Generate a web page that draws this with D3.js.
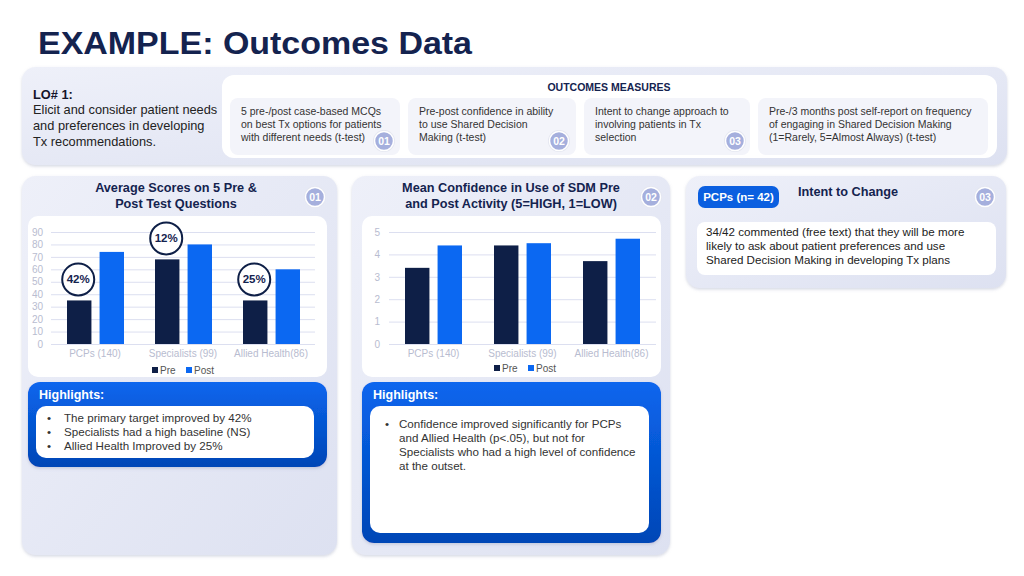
<!DOCTYPE html>
<html><head><meta charset="utf-8">
<script src="https://cdn.jsdelivr.net/npm/d3@7"></script>
<style>
html,body{margin:0;padding:0;background:#fff;}
svg{display:block;font-family:"Liberation Sans",Arial,sans-serif;}
</style></head>
<body><svg id="c" width="1024" height="576"></svg>
<script>
// ---- data ----
const categories = ["PCPs (140)", "Specialists (99)", "Allied Health(86)"];
const seriesNames = ["Pre", "Post"];
const scorePre = [35, 68, 35];
const scorePost = [74, 80, 60];
const scoreTicks = [0, 10, 20, 30, 40, 50, 60, 70, 80, 90];
const scoreChange = ["42%", "12%", "25%"];
const confPre = [3.4, 4.4, 3.7];
const confPost = [4.4, 4.5, 4.7];
const confTicks = [0, 1, 2, 3, 4, 5];
const measures = [
  ["5 pre-/post case-based MCQs", "on best Tx options for patients", "with different needs (t-test)"],
  ["Pre-post confidence in ability", "to use Shared Decision", "Making (t-test)"],
  ["Intent to change approach to", "involving patients in Tx", "selection"],
  ["Pre-/3 months post self-report on frequency", "of engaging in Shared Decision Making", "(1=Rarely, 5=Almost Always) (t-test)"]
];
const highlights1 = ["The primary target improved by 42%", "Specialists had a high baseline (NS)", "Allied Health Improved by 25%"];
const highlights2 = ["Confidence improved significantly for PCPs", "and Allied Health (p<.05), but not for", "Specialists who had a high level of confidence", "at the outset."];
const intentText = ["34/42 commented (free text) that they will be more", "likely to ask about patient preferences and use", "Shared Decision Making in developing Tx plans"];

const NAVY = "#0e1f47", BLUE = "#0b68f2", TITLE = "#14234f";
const svg = d3.select("#c");
const defs = svg.append("defs");

const g1 = defs.append("linearGradient").attr("id","panelG").attr("x1",0).attr("y1",0).attr("x2",1).attr("y2",1);
g1.append("stop").attr("offset","0%").attr("stop-color","#eef0f9");
g1.append("stop").attr("offset","100%").attr("stop-color","#dde1f1");
const g2 = defs.append("linearGradient").attr("id","blueG").attr("x1",0).attr("y1",0).attr("x2",0).attr("y2",1);
g2.append("stop").attr("offset","0%").attr("stop-color","#0a66ee");
g2.append("stop").attr("offset","100%").attr("stop-color","#0046b6");
const f = defs.append("filter").attr("id","sh").attr("x","-10%").attr("y","-10%").attr("width","120%").attr("height","130%");
f.append("feDropShadow").attr("dx",0).attr("dy",1.5).attr("stdDeviation",1.5).attr("flood-color","#8890b0").attr("flood-opacity",0.35);

function rr(x, y, w, h, r, fill, sh) {
  const e = svg.append("rect").attr("x",x).attr("y",y).attr("width",w).attr("height",h).attr("rx",r).attr("fill",fill);
  if (sh) e.attr("filter","url(#sh)");
  return e;
}
function lines(arr, x, y, lh, size, color, weight, anchor) {
  const t = svg.append("text").attr("x",x).attr("y",y).attr("font-size",size).attr("fill",color)
    .attr("font-weight",weight||"normal").attr("text-anchor",anchor||"start");
  arr.forEach((s,i)=> t.append("tspan").attr("x",x).attr("y",y+i*lh).text(s));
  return t;
}
function badge(cx, cy, label) {
  svg.append("circle").attr("cx",cx).attr("cy",cy).attr("r",11).attr("fill","#e4e6f0");
  svg.append("circle").attr("cx",cx).attr("cy",cy).attr("r",9.5).attr("fill","#a5afdd").attr("stroke","#fff").attr("stroke-width",1.5);
  svg.append("text").attr("x",cx).attr("y",cy+3.8).attr("text-anchor","middle").attr("font-size",10.5)
    .attr("font-weight","bold").attr("fill","#fff").text(label);
}

// ---- title ----
svg.append("text").attr("x",38).attr("y",54).attr("font-size",32).attr("font-weight","bold")
  .attr("fill",TITLE).attr("textLength",434).attr("lengthAdjust","spacingAndGlyphs").text("EXAMPLE: Outcomes Data");

// ---- top panel ----
rr(22, 67, 985, 98, 14, "url(#panelG)", true);
rr(222, 75, 775, 83, 12, "#ffffff", false);
svg.append("text").attr("x",33).attr("y",99).attr("font-size",12.8).attr("font-weight","bold").attr("fill","#15152a").text("LO# 1:");
lines(["Elicit and consider patient needs","and preferences in developing","Tx recommendations."], 33, 114, 16, 12.8, "#222", "normal");
svg.append("text").attr("x",609).attr("y",91).attr("text-anchor","middle").attr("font-size",10.5)
  .attr("font-weight","bold").attr("fill",TITLE).text("OUTCOMES MEASURES");
const boxX = [230, 408, 584, 758], boxW = [170, 168, 166, 230];
measures.forEach((m,i)=>{
  rr(boxX[i], 98, boxW[i], 57, 8, "#f3f4fa", false);
  lines(m, boxX[i]+11, 115, 13, 10.5, "#333", "normal");
});
badge(384, 141, "01"); badge(559, 141, "02"); badge(735, 141, "03");

// ---- chart panels ----
rr(22, 176, 315, 379, 14, "url(#panelG)", true);
rr(352, 176, 318, 379, 14, "url(#panelG)", true);
rr(686, 176, 320, 112, 14, "url(#panelG)", true);

lines(["Average Scores on 5 Pre &","Post Test Questions"], 176, 192, 16, 12.7, TITLE, "bold", "middle");
lines(["Mean Confidence in Use of SDM Pre","and Post Activity (5=HIGH, 1=LOW)"], 511, 192, 16, 12.7, TITLE, "bold", "middle");
badge(315, 197, "01"); badge(651, 197, "02");

rr(28, 216, 299, 161, 10, "#ffffff", false);
rr(362, 216, 299, 161, 10, "#ffffff", false);

function barChart(opts) {
  const {x0, x1, pre, post, domain, ticks, labelX} = opts;
  const y = d3.scaleLinear().domain(domain).range([344, 232]);
  const x = d3.scaleBand().domain(categories).range([x0, x1]);
  const xi = d3.scaleBand().domain(seriesNames).range([16, 73]).paddingInner(0.25);
  const g = svg.append("g");
  // gridlines
  g.append("g").attr("transform",`translate(${x1},0)`).call(d3.axisRight(y).tickValues(ticks).tickSize(-(x1-x0)).tickFormat(""))
    .call(s=>{s.select(".domain").remove(); s.selectAll("line").attr("stroke","#dcdff0").attr("stroke-width",1);});
  // y labels
  g.append("g").attr("transform",`translate(${labelX},0)`).call(d3.axisLeft(y).tickValues(ticks).tickSize(0).tickPadding(0).tickFormat(d3.format("d")))
    .call(s=>{s.select(".domain").remove(); s.selectAll("text").attr("font-size",10).attr("fill","#b8bcd0").attr("font-family","Liberation Sans, Arial, sans-serif");});
  // bars
  const rows = categories.map((c,i)=>({c, vals:[{s:"Pre",v:pre[i]},{s:"Post",v:post[i]}]}));
  const grp = g.selectAll(".grp").data(rows).enter().append("g").attr("transform",d=>`translate(${x(d.c)},0)`);
  grp.selectAll("rect").data(d=>d.vals).enter().append("rect")
    .attr("x",d=>xi(d.s)).attr("width",xi.bandwidth())
    .attr("y",d=>y(d.v)).attr("height",d=>y(0)-y(d.v))
    .attr("fill",d=>d.s==="Pre"?NAVY:BLUE);
  // x labels
  g.append("g").attr("transform","translate(0,348)").call(d3.axisBottom(x).tickSize(0).tickPadding(0))
    .call(s=>{s.select(".domain").remove(); s.selectAll("text").attr("dy","0.9em").attr("font-size",10).attr("fill","#b8bcd0").attr("font-family","Liberation Sans, Arial, sans-serif");});
  return {x, xi, y};
}

const c1 = barChart({x0:51, x1:315, pre:scorePre, post:scorePost, domain:[0,90], ticks:scoreTicks, labelX:43});
const c2 = barChart({x0:389, x1:656, pre:confPre, post:confPost, domain:[0,5], ticks:confTicks, labelX:380});

// annotation circles (chart 1)
categories.forEach((c,i)=>{
  const cx = c1.x(c) + c1.xi("Pre") + c1.xi.bandwidth()/2 - 1;
  const cy = c1.y(scorePre[i]) - 21;
  svg.append("circle").attr("cx",cx).attr("cy",cy).attr("r",16).attr("fill","#fff").attr("stroke",NAVY).attr("stroke-width",2);
  svg.append("text").attr("x",cx).attr("y",cy+4).attr("text-anchor","middle").attr("font-size",11.5)
    .attr("font-weight","bold").attr("fill",TITLE).text(scoreChange[i]);
});

// legends
function legend(x, y) {
  const items = [{s:"Pre",c:NAVY,dx:0},{s:"Post",c:BLUE,dx:34}];
  items.forEach(it=>{
    svg.append("rect").attr("x",x+it.dx).attr("y",y-7).attr("width",6).attr("height",6).attr("fill",it.c);
    svg.append("text").attr("x",x+it.dx+8).attr("y",y).attr("font-size",10).attr("fill","#555").text(it.s);
  });
}
legend(152, 374); legend(494, 372);

// highlights
rr(28, 382, 299, 85, 12, "url(#blueG)", true);
rr(36, 406, 278, 52, 10, "#ffffff", false);
svg.append("text").attr("x",39).attr("y",399).attr("font-size",12.5).attr("font-weight","bold").attr("fill","#fff").text("Highlights:");
highlights1.forEach((s,i)=>{
  svg.append("text").attr("x",47).attr("y",422+i*14).attr("font-size",11.6).attr("fill","#333").text("•");
  svg.append("text").attr("x",64).attr("y",422+i*14).attr("font-size",11.6).attr("fill","#333").text(s);
});
rr(362, 382, 299, 161, 12, "url(#blueG)", true);
rr(370, 406, 279, 127, 10, "#ffffff", false);
svg.append("text").attr("x",373).attr("y",399).attr("font-size",12.5).attr("font-weight","bold").attr("fill","#fff").text("Highlights:");
svg.append("text").attr("x",385).attr("y",428).attr("font-size",11.6).attr("fill","#333").text("•");
lines(highlights2, 399, 428, 14, 11.6, "#333", "normal");

// intent to change
svg.append("text").attr("x",848).attr("y",196).attr("text-anchor","middle").attr("font-size",12.7)
  .attr("font-weight","bold").attr("fill",TITLE).text("Intent to Change");
rr(698, 186, 81, 22, 7, "#0b5fe0", false);
svg.append("text").attr("x",738.5).attr("y",201).attr("text-anchor","middle").attr("font-size",11.5)
  .attr("font-weight","bold").attr("fill","#fff").text("PCPs (n= 42)");
badge(985, 197, "03");
rr(697, 222, 299, 53, 8, "#ffffff", false);
lines(intentText, 706, 236, 14, 11.6, "#222", "normal");
</script></body></html>
